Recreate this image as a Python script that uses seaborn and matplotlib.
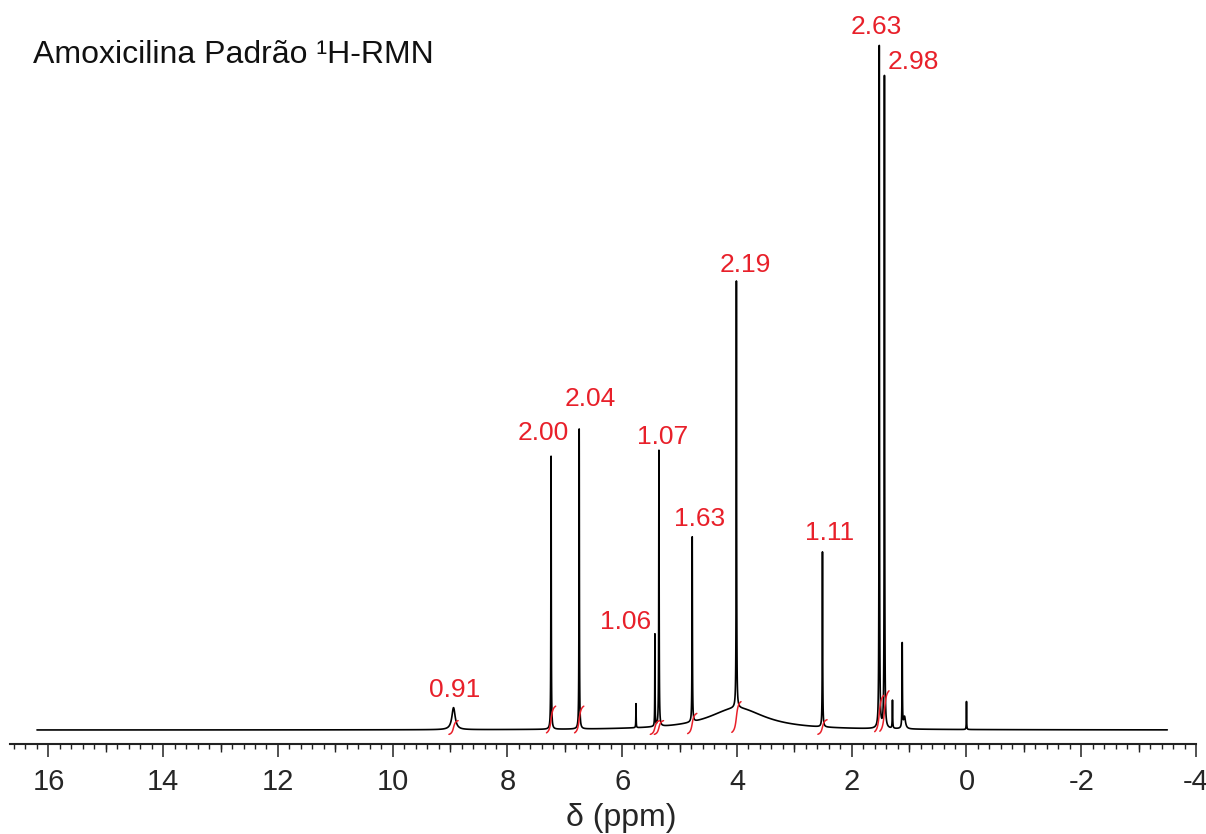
import numpy as np
import pandas as pd
import matplotlib
matplotlib.use("Agg")
import matplotlib.pyplot as plt
import seaborn as sns

# ---- data ----
# sharp / narrow peaks: position (ppm), height (a.u.), half width (ppm)
peak_ppm    = [8.94, 7.24, 6.75, 5.76, 5.43, 5.36, 4.78, 4.01, 2.51, 1.52, 1.43, 1.29, 1.12, 1.08, 0.00]
peak_height = [22,   273,  300,  24,   92,   276,  185,  427,  175,  682,  652,  28,   84,   12,   28]
peak_hwhm   = [0.035, 0.004, 0.004, 0.003, 0.003, 0.004, 0.004, 0.004, 0.004, 0.004, 0.004, 0.004, 0.004, 0.02, 0.003]
# broad exchangeable hump
hump_ppm, hump_height, hump_hwhm = 4.0, 22, 0.6

# integrals: label, peak position (ppm), label x (ppm), label y (a.u.), alignment
integral_values = ["0.91", "2.00", "2.04", "1.06", "1.07", "1.63", "2.19", "1.11", "2.63", "2.98"]
integral_ppm    = [8.94,   7.24,   6.75,   5.43,   5.36,   4.78,   4.01,   2.51,   1.52,   1.43]
label_ppm       = [8.92,   7.38,   6.56,   5.94,   5.30,   4.66,   3.85,   2.38,   1.57,   1.38]
label_y         = [40,     297,    331,    108,    293,    211,    465,    197,    703,    668]
label_ha        = ["center"] * 8 + ["center", "left"]
integral_h      = [17, 33, 33, 17, 17, 25, 38, 18, 45, 50]

xticks_major = [16, 14, 12, 10, 8, 6, 4, 2, 0, -2, -4]

# ---- build spectrum from peak list (Lorentzian line shapes) ----
ppm = np.arange(16.2, -3.5, -0.0005)
inten = np.zeros_like(ppm)
for p, h, w in zip(peak_ppm, peak_height, peak_hwhm):
    inten += h / (1 + ((ppm - p) / w) ** 2)
inten += hump_height / (1 + ((ppm - hump_ppm) / hump_hwhm) ** 2)
df = pd.DataFrame({"ppm": ppm, "I": inten})

sns.set_theme(style="white")
plt.rcParams["font.family"] = ["Liberation Sans", "DejaVu Sans"]
plt.rcParams["path.simplify"] = False

fig = plt.figure(figsize=(12.06, 8.34), dpi=100)
ax = fig.add_axes([10 / 1206, 90 / 834, 1186 / 1206, 704 / 834])

sns.lineplot(data=df, x="ppm", y="I", ax=ax, color="black", linewidth=1.2,
             sort=False, estimator=None)

red = "#e8202a"
for val, p, h, lp, ly, ha in zip(integral_values, integral_ppm, integral_h,
                                  label_ppm, label_y, label_ha):
    xs = np.linspace(p + 0.08, p - 0.08, 60)
    ys = -6 + h * (0.5 - np.arctan((xs - p) / 0.025) / np.pi)
    ax.plot(xs, ys, color=red, linewidth=1.1)
    ax.text(lp, ly, val, color=red, fontsize=19, ha=ha, va="center")

ax.set_xlim(16.67, -4.0)
ax.set_ylim(-14, 690)
ax.set_yticks([])
ax.set_ylabel("")
for s in ["top", "left", "right"]:
    ax.spines[s].set_visible(False)
ax.spines["bottom"].set_linewidth(1.5)
ax.spines["bottom"].set_color("#222222")

ax.set_xticks(xticks_major)
ax.set_xticklabels([str(t) for t in xticks_major])
ax.set_xticks(np.arange(-4, 16.8, 0.2), minor=True)
ax.tick_params(axis="x", which="major", direction="out", length=9, width=1.1,
               pad=8, labelsize=21, bottom=True, color="#222222")
ax.tick_params(axis="x", which="minor", direction="out", length=3.8, width=1.0,
               bottom=True, color="#222222")
sec = ax.secondary_xaxis("bottom")
sec.set_xticks([15, 13, 11, 9, 7, 5, 3, 1, -1, -3])
sec.tick_params(axis="x", direction="out", length=6, width=1.0, labelbottom=False,
                color="#222222")
sec.spines["bottom"].set_visible(False)

ax.set_xlabel("δ (ppm)", fontsize=23, labelpad=5)
ax.xaxis.label.set_x((621 - 10) / 1186)
ax.grid(False)

fig.text(33 / 1206, 1 - 55 / 834, "Amoxicilina Padrão ¹H-RMN", fontsize=23,
         ha="left", va="center", color="#111111")

fig.savefig("out.png", dpi=100)
